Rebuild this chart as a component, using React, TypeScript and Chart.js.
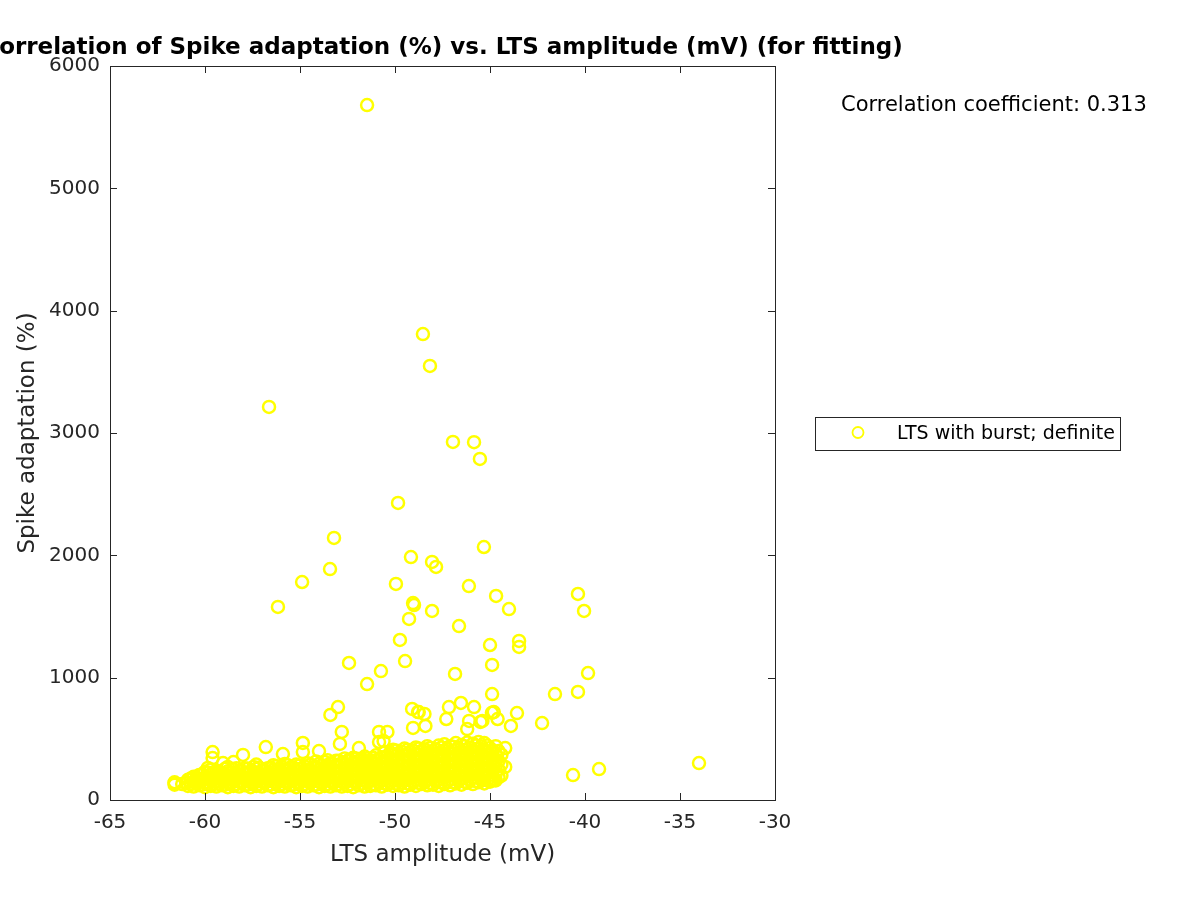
import React, { useEffect, useRef } from "react";
import { Chart, registerables } from "chart.js";

Chart.register(...registerables);

const TITLE = "Correlation of Spike adaptation (%) vs. LTS amplitude (mV) (for fitting)";
const X_LABEL = "LTS amplitude (mV)";
const Y_LABEL = "Spike adaptation (%)";
const LEGEND_LABEL = "LTS with burst; definite";
const CORR_TEXT = "Correlation coefficient: 0.313";

const X_MIN = -65;
const X_MAX = -30;
const X_STEP = 5;
const Y_MIN = 0;
const Y_MAX = 6000;
const Y_STEP = 1000;

// Dense cluster, column by column (x value, then its y values)
const clusterColsA: [number, number[]][] = [
  [-61.6, [125, 145]],
  [-61.2, [130]],
  [-60.9, [115, 165]],
  [-60.6, [110, 150, 190]],
  [-60.3, [120, 160, 205]],
  [-60.0, [105, 140, 185, 230]],
  [-59.7, [115, 160, 210, 250]],
  [-59.4, [110, 150, 195, 240]],
  [-59.1, [120, 165, 215]],
  [-58.8, [105, 145, 190, 235, 270]],
  [-58.5, [115, 160, 205, 250]],
  [-58.2, [110, 150, 195, 240]],
  [-57.9, [120, 170, 215, 260]],
  [-57.6, [105, 145, 190, 235]],
  [-57.3, [115, 160, 205, 255, 290]],
  [-57.0, [110, 150, 195, 240]],
  [-56.7, [120, 165, 215, 260]],
  [-56.4, [105, 150, 195, 245, 285]],
  [-56.1, [115, 160, 210, 255]],
  [-55.8, [110, 150, 200, 250, 295]],
  [-55.5, [120, 170, 215, 265]],
  [-55.2, [105, 145, 195, 240, 290]],
  [-54.9, [115, 160, 210, 260]],
  [-54.6, [110, 155, 200, 250, 300]],
  [-54.3, [120, 165, 215, 265]],
  [-54.0, [105, 150, 200, 245, 295]],
  [-53.7, [115, 160, 210, 260, 310]],
  [-53.4, [110, 155, 205, 255, 300]],
  [-53.1, [120, 170, 220, 270, 320]],
  [-52.8, [110, 150, 200, 250, 300]],
  [-52.5, [115, 165, 215, 265, 320]],
  [-52.2, [105, 155, 205, 255, 305, 345]],
  [-51.9, [120, 170, 220, 270, 320]],
  [-51.6, [110, 160, 210, 260, 310, 355]],
  [-51.3, [115, 165, 215, 265, 315]],
  [-51.0, [120, 170, 220, 270, 325, 365]],
  [-50.7, [110, 160, 210, 260, 310, 350]],
  [-50.4, [125, 175, 225, 275, 330]],
  [-50.1, [115, 165, 215, 265, 315, 370, 410]],
  [-49.8, [120, 170, 225, 280, 335, 385]],
  [-49.5, [110, 160, 210, 260, 315, 365, 420]],
  [-49.2, [125, 175, 230, 285, 340, 395]],
  [-48.9, [115, 165, 220, 275, 330, 380, 430]],
  [-48.6, [130, 180, 235, 290, 345, 400]],
  [-48.3, [120, 170, 225, 280, 335, 390, 440]],
  [-48.0, [125, 180, 235, 290, 345, 400]],
  [-47.7, [115, 165, 220, 275, 330, 385, 445]],
  [-47.4, [130, 185, 240, 295, 350, 405, 455]],
  [-47.1, [120, 170, 225, 280, 335, 390, 440]],
  [-46.8, [135, 190, 245, 300, 355, 410, 465]],
  [-46.5, [125, 175, 230, 285, 340, 395, 450]],
  [-46.2, [140, 195, 250, 305, 360, 415, 470]],
  [-45.9, [130, 185, 240, 295, 350, 405, 460]],
  [-45.6, [145, 200, 255, 310, 365, 420, 475]],
  [-45.3, [135, 190, 245, 300, 355, 410, 465]],
  [-45.0, [150, 205, 260, 315, 370, 425]],
  [-44.7, [160, 215, 270, 325, 380, 440]],
  [-44.4, [200, 290, 370]],
];

const clusterColsB: [number, number[]][] = [
  [-60.75, [130, 175]],
  [-60.45, [135, 180]],
  [-60.15, [125, 165, 210]],
  [-59.85, [130, 180, 225]],
  [-59.55, [135, 175, 220]],
  [-59.25, [130, 180, 230]],
  [-58.95, [125, 170, 210, 255]],
  [-58.65, [135, 180, 225]],
  [-58.35, [130, 175, 220, 260]],
  [-58.05, [140, 190, 235]],
  [-57.75, [125, 170, 215, 255]],
  [-57.45, [135, 180, 230, 270]],
  [-57.15, [130, 175, 220, 265]],
  [-56.85, [140, 190, 240]],
  [-56.55, [125, 170, 220, 265]],
  [-56.25, [135, 185, 230, 275]],
  [-55.95, [130, 175, 225, 270]],
  [-55.65, [140, 190, 240, 285]],
  [-55.35, [125, 170, 220, 265]],
  [-55.05, [135, 185, 235, 280]],
  [-54.75, [130, 180, 225, 275]],
  [-54.45, [140, 190, 240, 290]],
  [-54.15, [125, 175, 225, 270, 315]],
  [-53.85, [135, 185, 235, 285]],
  [-53.55, [130, 180, 230, 280, 325]],
  [-53.25, [140, 195, 245, 295]],
  [-52.95, [130, 175, 225, 275, 320]],
  [-52.65, [140, 190, 240, 290, 340]],
  [-52.35, [130, 180, 230, 280, 325]],
  [-52.05, [140, 195, 245, 295, 340]],
  [-51.75, [135, 185, 235, 285, 335]],
  [-51.45, [140, 190, 240, 290, 340]],
  [-51.15, [130, 195, 245, 295, 345]],
  [-50.85, [140, 185, 235, 285, 335]],
  [-50.55, [135, 195, 250, 300, 350, 390]],
  [-50.25, [140, 190, 240, 290, 345, 390]],
  [-49.95, [135, 195, 250, 305, 360, 405]],
  [-49.65, [140, 185, 235, 290, 340, 395]],
  [-49.35, [135, 200, 255, 310, 365, 410]],
  [-49.05, [145, 190, 245, 300, 355, 405]],
  [-48.75, [140, 205, 260, 315, 370, 420]],
  [-48.45, [145, 195, 250, 305, 360, 415]],
  [-48.15, [140, 205, 260, 315, 370, 425]],
  [-47.85, [150, 200, 250, 305, 360, 415]],
  [-47.55, [145, 210, 265, 320, 375, 430]],
  [-47.25, [150, 200, 255, 310, 365, 420]],
  [-46.95, [145, 215, 270, 325, 380, 435]],
  [-46.65, [155, 205, 260, 315, 370, 425]],
  [-46.35, [150, 220, 275, 330, 385, 440]],
  [-46.05, [160, 210, 265, 320, 375, 430]],
  [-45.75, [155, 225, 280, 335, 390, 445]],
  [-45.45, [165, 220, 270, 325, 380, 440]],
  [-45.15, [160, 230, 285, 340, 395, 445]],
  [-44.85, [175, 235, 290, 345, 400]],
  [-44.55, [185, 250, 320, 400]],
];

// Scattered points above / around the cluster
const sparseX = [
  -61.6, -60.95, -59.6, -59.6, -58.0, -58.5, -59.05, -59.85, -56.8, -55.9,
  -54.85, -54.85, -54.0, -52.9, -52.8, -51.9, -50.84, -50.84, -50.4, -50.6,
  -49.05, -48.4, -47.3, -47.16, -46.1, -45.4, -44.8, -44.6, -43.9, -46.2,
  -44.2, -44.2, -44.8, -48.75, -48.45, -45.5, -44.9, -44.9, -53.4,
];
const sparseY = [
  139, 139, 392, 343, 368, 310, 302, 262, 433, 376,
  466, 392, 400, 458, 556, 425, 556, 474, 556, 482,
  589, 605, 662, 760, 646, 646, 719, 662, 605, 580,
  425, 270, 163, 719, 703, 638, 713, 160, 695,
];

// Outliers
const outlierX = [
  -51.47, -48.53, -48.16, -56.63, -46.95, -45.84, -45.53, -49.84, -45.32, -53.21,
  -53.42, -49.16, -48.05, -47.84, -54.89, -49.95, -46.11, -56.16, -49.05, -49.0,
  -48.05, -49.26, -46.63, -49.74, -44.68, -44.0, -40.37, -40.05, -43.47, -43.47,
  -45.0, -52.42, -49.47, -50.74, -44.89, -46.84, -39.84, -51.47, -41.58, -40.37,
  -44.89, -46.53, -53.0, -45.84, -49.1, -48.79, -43.58, -42.26, -40.63, -39.26,
  -34.0,
];
const outlierY = [
  5681, 3809, 3548, 3213, 2927, 2925, 2788, 2428, 2068, 2142,
  1888, 1986, 1946, 1905, 1782, 1766, 1749, 1578, 1610, 1594,
  1545, 1480, 1422, 1308, 1668, 1561, 1684, 1545, 1300, 1251,
  1267, 1120, 1136, 1054, 1104, 1030, 1038, 948, 866, 883,
  866, 793, 760, 760, 744, 719, 711, 629, 204, 253,
  302,
];

const POINT_COLOR = "rgb(255,255,0)";
const AXIS_COLOR = "#262626";
const FONT = "'DejaVu Sans', sans-serif";

export default function App() {
  const canvasRef = useRef<HTMLCanvasElement | null>(null);

  useEffect(() => {
    const canvas = canvasRef.current;
    if (!canvas) return;

    const points: { x: number; y: number }[] = [];
    clusterColsA.forEach(([x, ys]) => ys.forEach((y) => points.push({ x, y })));
    clusterColsB.forEach(([x, ys]) => ys.forEach((y) => points.push({ x, y })));
    sparseX.forEach((x, i) => points.push({ x, y: sparseY[i] }));
    outlierX.forEach((x, i) => points.push({ x, y: outlierY[i] }));

    const decor = {
      id: "decor",
      afterDraw(chart: any) {
        const ctx = chart.ctx as CanvasRenderingContext2D;
        const a = chart.chartArea;
        const xs = chart.scales.x;
        const ys = chart.scales.y;
        ctx.save();
        // box
        ctx.strokeStyle = AXIS_COLOR;
        ctx.lineWidth = 1;
        ctx.strokeRect(Math.round(a.left) + 0.5, Math.round(a.top) + 0.5, Math.round(a.right - a.left), Math.round(a.bottom - a.top));
        // ticks inward
        const tl = 7;
        ctx.beginPath();
        for (let v = X_MIN; v <= X_MAX; v += X_STEP) {
          const px = Math.round(xs.getPixelForValue(v)) + 0.5;
          ctx.moveTo(px, a.bottom);
          ctx.lineTo(px, a.bottom - tl);
          ctx.moveTo(px, a.top);
          ctx.lineTo(px, a.top + tl);
        }
        for (let v = Y_MIN; v <= Y_MAX; v += Y_STEP) {
          const py = Math.round(ys.getPixelForValue(v)) + 0.5;
          ctx.moveTo(a.left, py);
          ctx.lineTo(a.left + tl, py);
          ctx.moveTo(a.right, py);
          ctx.lineTo(a.right - tl, py);
        }
        ctx.stroke();

        // title
        const cx = (a.left + a.right) / 2;
        ctx.fillStyle = "#000";
        ctx.font = `bold 23px ${FONT}`;
        ctx.textAlign = "center";
        ctx.textBaseline = "alphabetic";
        ctx.fillText(TITLE, cx, 54);

        // axis labels
        ctx.fillStyle = AXIS_COLOR;
        ctx.font = `23px ${FONT}`;
        ctx.fillText(X_LABEL, cx, 861);
        ctx.save();
        ctx.translate(28, (a.top + a.bottom) / 2);
        ctx.rotate(-Math.PI / 2);
        ctx.textBaseline = "middle";
        ctx.fillText(Y_LABEL, 0, 0);
        ctx.restore();

        // correlation text
        ctx.fillStyle = "#000";
        ctx.font = `21px ${FONT}`;
        ctx.textAlign = "left";
        ctx.textBaseline = "middle";
        ctx.fillText(CORR_TEXT, 841, 106);

        // legend
        ctx.fillStyle = "#fff";
        ctx.fillRect(815.5, 417.5, 305, 33);
        ctx.strokeStyle = AXIS_COLOR;
        ctx.lineWidth = 1;
        ctx.strokeRect(815.5, 417.5, 305, 33);
        ctx.strokeStyle = POINT_COLOR;
        ctx.lineWidth = 1.8;
        ctx.beginPath();
        ctx.arc(858, 432.5, 5.5, 0, Math.PI * 2);
        ctx.stroke();
        ctx.fillStyle = "#000";
        ctx.font = `19px ${FONT}`;
        ctx.fillText(LEGEND_LABEL, 897, 434);
        ctx.restore();
      },
    };

    const chart = new Chart(canvas, {
      type: "scatter",
      data: {
        datasets: [
          {
            label: LEGEND_LABEL,
            data: points,
            pointStyle: "circle",
            pointRadius: 6,
            pointBorderWidth: 2.5,
            borderColor: POINT_COLOR,
            backgroundColor: "rgba(0,0,0,0)",
            pointHoverRadius: 6,
          },
        ],
      },
      options: {
        responsive: false,
        animation: false,
        devicePixelRatio: 1,
        layout: { padding: { left: 0, right: 425, top: 66, bottom: 0 } },
        plugins: {
          legend: { display: false },
          tooltip: { enabled: false },
          title: { display: false },
        },
        scales: {
          x: {
            type: "linear",
            min: X_MIN,
            max: X_MAX,
            grid: { display: false, drawTicks: false },
            border: { display: false },
            ticks: {
              stepSize: X_STEP,
              color: AXIS_COLOR,
              font: { family: FONT, size: 20 },
              padding: 11,
              maxRotation: 0,
              callback: (v: any) => String(v),
            },
            afterFit: (s: any) => {
              s.height = 100;
            },
          },
          y: {
            type: "linear",
            min: Y_MIN,
            max: Y_MAX,
            grid: { display: false, drawTicks: false },
            border: { display: false },
            ticks: {
              stepSize: Y_STEP,
              color: AXIS_COLOR,
              font: { family: FONT, size: 20 },
              padding: 10,
              callback: (v: any) => String(v),
            },
            afterFit: (s: any) => {
              s.width = 110;
            },
          },
        },
      },
      plugins: [decor],
    });

    return () => chart.destroy();
  }, []);

  return (
    <div style={{ position: "absolute", left: 0, top: 0, width: 1200, height: 900, background: "#fff" }}>
      <canvas ref={canvasRef} width={1200} height={900} />
    </div>
  );
}
